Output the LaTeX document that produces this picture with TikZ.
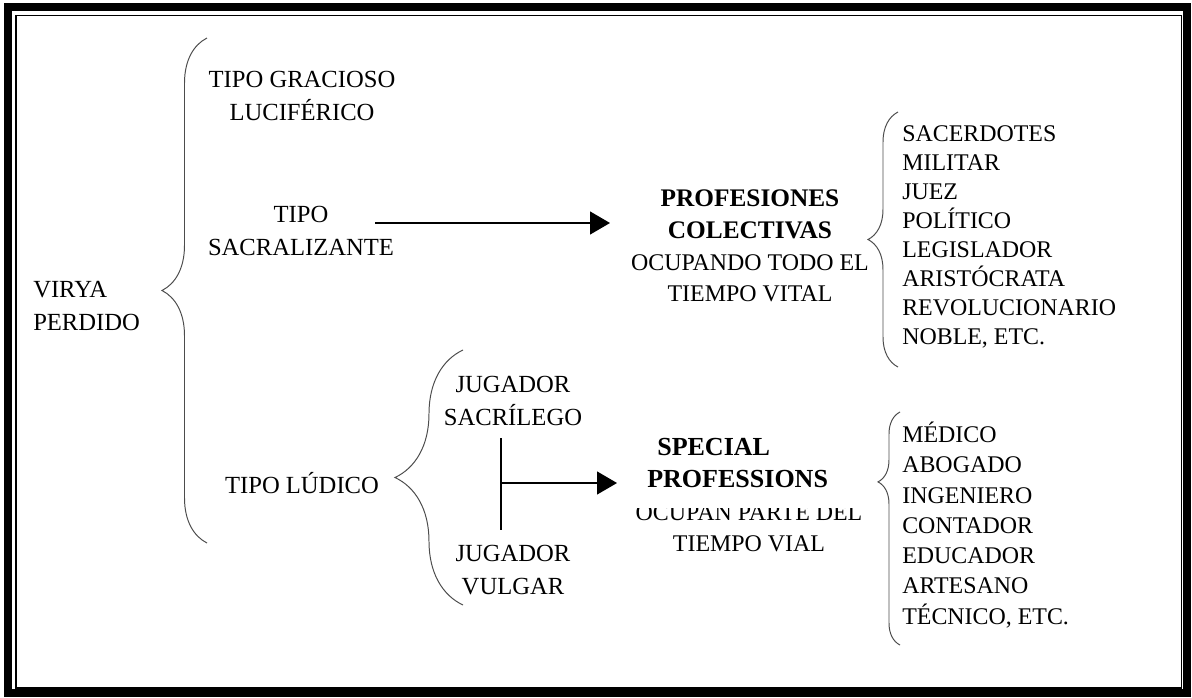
\documentclass[tikz,border=0pt]{standalone}
\usepackage{fontspec}
\setmainfont{Liberation Serif}
\usetikzlibrary{arrows.meta, decorations.pathreplacing}

\begin{document}
\begin{tikzpicture}[x=0.025cm, y=-0.025cm,
  lbl/.style={align=center, inner sep=0pt, font=\fontsize{17.5}{24}\selectfont},
  lst/.style={align=left, anchor=west, inner sep=0pt, font=\fontsize{17}{20.6}\selectfont},
  brc/.style={decorate, draw=black!70, line width=0.7pt, decoration={brace, amplitude=#1}},
  arr/.style={line width=0.9pt, -{Triangle[length=0.5cm, width=0.575cm]}}]
\useasboundingbox (0,0) rectangle (1192,698);

% Frame
\draw[line width=5pt] (8,7) rectangle (1187,693);
\draw[line width=1pt] (16,15.5) rectangle (1181.5,688);

% Virya perdido
\node[lbl, align=left, anchor=west] (virya) at (33,306) {VIRYA\\PERDIDO};
\draw[brc=1.125cm] (207,543) -- (207,38);
\node[lbl] (gracioso) at (302,96) {TIPO GRACIOSO\\LUCIFÉRICO};
\node[lbl] (sacral) at (301,231) {TIPO\\SACRALIZANTE};
\node[lbl, anchor=base] (ludico) at (302,493) {TIPO LÚDICO};

% Profesiones colectivas
\coordinate (s1) at (375,223);
\coordinate (e1) at (610,223);
\draw[arr] (s1) -- (e1);
\node[lbl, font=\fontsize{17}{22.5}\selectfont] (prof) at (750,246)
  {{\fontsize{18}{22.5}\selectfont\bfseries PROFESIONES}\\{\fontsize{18}{22.5}\selectfont\bfseries COLECTIVAS}\\OCUPANDO TODO EL\\TIEMPO VITAL};
\draw[brc=0.75cm] (898,367) -- (898,112);
\node[lst] (lista1) at (902,237) {SACERDOTES\\MILITAR\\JUEZ\\POLÍTICO\\LEGISLADOR\\ARISTÓCRATA\\REVOLUCIONARIO\\NOBLE, ETC.};

% Tipo ludico
\draw[brc=1.7cm] (463,605) -- (463,350);
\node[lbl] (jug1) at (513,401) {JUGADOR\\SACRÍLEGO};
\node[lbl] (jug2) at (513,570) {JUGADOR\\VULGAR};
\coordinate (v1) at (501,438);
\coordinate (v2) at (501,530);
\coordinate (s2) at (501,483);
\coordinate (e2) at (617,483);
\draw[line width=0.9pt] (v1) -- (v2);
\draw[arr] (s2) -- (e2);

% Special professions
\node[lbl, font=\fontsize{17}{22}\selectfont] (ocup) at (749,528) {OCUPAN PARTE DEL\\TIEMPO VIAL};
\node[anchor=base west, inner sep=0pt, font=\fontsize{18.5}{22}\selectfont\bfseries] (spec1) at (657,455) {SPECIAL};
\node[anchor=base west, inner sep=0pt, fill=white, text depth=0.525cm, font=\fontsize{18.5}{22}\selectfont\bfseries] (spec2) at (630,487) {\hspace*{0.425cm}PROFESSIONS\hspace*{0.9cm}};
\draw[brc=0.55cm, decoration={aspect=0.7}] (900,645) -- (900,412);
\node[lst, font=\fontsize{17}{21.5}\selectfont] (lista2) at (902,525) {MÉDICO\\ABOGADO\\INGENIERO\\CONTADOR\\EDUCADOR\\ARTESANO\\TÉCNICO, ETC.};
\end{tikzpicture}
\end{document}
